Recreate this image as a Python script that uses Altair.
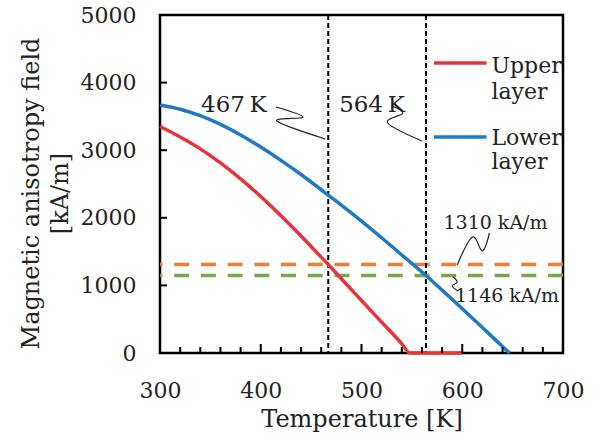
import altair as alt
import pandas as pd

# Anisotropy field curves (temperature in K, field in kA/m)
upper_temp = [300, 320, 340, 360, 380, 400, 420, 440, 460, 467, 480, 500, 520, 540, 548, 560, 580, 600]
upper_field = [3350, 3196, 3020, 2812, 2576, 2314, 2030, 1730, 1418, 1310, 1098, 776, 456, 136, 0, 0, 0, 0]
lower_temp = [300, 320, 340, 360, 380, 400, 420, 440, 460, 467, 480, 500, 520, 540, 564, 580, 600, 620, 640, 647]
lower_field = [3670, 3606, 3510, 3382, 3226, 3046, 2850, 2640, 2415, 2335, 2188, 1952, 1705, 1450, 1146, 930, 654, 376, 96, 0]

# Reference levels and crossing temperatures
levels = [1310, 1146]
level_colors = ["#ED7D31", "#70AD47"]
crossings = [467, 564]

# Axis ticks
x_ticks = [300, 400, 500, 600, 700]
x_minor = [t for t in range(320, 700, 20) if t % 100 != 0]
x_major_inner = [400, 500, 600]
y_ticks = [0, 1000, 2000, 3000, 4000, 5000]
y_inner = [1000, 2000, 3000, 4000]

# Leader lines (temperature, field) for the annotations
lead_467_t = [415, 442, 416, 464]
lead_467_h = [3639, 3491, 3432, 3166]
lead_564_t = [530, 541, 526, 560]
lead_564_h = [3654, 3550, 3402, 3136]
lead_1310_t = [627, 620, 610, 595]
lead_1310_h = [1775, 1509, 1716, 1302]
lead_1146_t = [591, 595, 590, 596]
lead_1146_h = [1124, 1050, 991, 917]

# Annotation labels
big_labels = ["467\u2009K", "564\u2009K"]
big_label_t = [373.4, 510.4]
big_label_h = [3570, 3570]
small_labels = ["1310 kA/m", "1146 kA/m"]
small_label_t = [633, 644.4]
small_label_h = [1830, 759]

# Legend entries
series_names = ["Upper layer", "Lower layer"]
series_colors = ["#E8333A", "#2079C2"]
legend_line_t = [572, 624]
legend_line_h = [4290, 3195]
legend_text = ["Upper", "layer", "Lower", "layer"]
legend_text_h = [4138, 3752, 3077, 2717]
legend_text_t = 629

FONT = "DejaVu Serif"
W, H = 403, 338
X0, X1, Y0, Y1 = 300, 700, 0, 5000
# inner tick lengths converted from px to data units
MINOR_LEN = 6 * (Y1 - Y0) / H
MAJOR_LEN = 9 * (Y1 - Y0) / H
YTICK_LEN = 7 * (X1 - X0) / W

x_scale = alt.Scale(domain=[X0, X1], nice=False, zero=False)
y_scale = alt.Scale(domain=[Y0, Y1], nice=False)

curves = pd.DataFrame({
    "T": upper_temp + lower_temp,
    "H": upper_field + lower_field,
    "layer": [series_names[0]] * len(upper_temp) + [series_names[1]] * len(lower_temp),
})

x_enc = alt.X("T:Q", scale=x_scale,
              axis=alt.Axis(values=x_ticks, title="Temperature [K]", labelPadding=27,
                            titlePadding=6, labelFlush=False, format="d"))
y_enc = alt.Y("H:Q", scale=y_scale,
              axis=alt.Axis(values=y_ticks, title=["Magnetic anisotropy field", "[kA/m]"],
                            labelPadding=24, titlePadding=8, titleLineHeight=29, titleY=178,
                            labelFlush=False, format="d"))

curve_layer = alt.Chart(curves).mark_line(strokeWidth=3.5, interpolate="monotone").encode(
    x=x_enc,
    y=y_enc,
    color=alt.Color("layer:N", scale=alt.Scale(domain=series_names, range=series_colors), legend=None),
)

level_df = pd.DataFrame({"H": levels, "c": level_colors})
level_layer = alt.Chart(level_df).mark_rule(strokeWidth=3.5, strokeDash=[15, 11.7]).encode(
    y=alt.Y("H:Q", scale=y_scale),
    color=alt.Color("c:N", scale=None),
)

cross_df = pd.DataFrame({"T": crossings})
cross_layer = alt.Chart(cross_df).mark_rule(strokeWidth=2, strokeDash=[5, 3], color="black").encode(
    x=alt.X("T:Q", scale=x_scale),
)

# Inward-pointing tick marks, each one a two-point segment
tick_rows = []
for t in x_minor:
    tick_rows += [{"g": f"m{t}", "T": t, "H": Y0}, {"g": f"m{t}", "T": t, "H": Y0 + MINOR_LEN}]
for t in x_major_inner:
    tick_rows += [{"g": f"M{t}", "T": t, "H": Y0}, {"g": f"M{t}", "T": t, "H": Y0 + MAJOR_LEN}]
for h in y_inner:
    tick_rows += [{"g": f"y{h}", "T": X0, "H": h}, {"g": f"y{h}", "T": X0 + YTICK_LEN, "H": h}]
tick_df = pd.DataFrame(tick_rows)
tick_layer = alt.Chart(tick_df).mark_line(strokeWidth=2, color="black").encode(
    x=alt.X("T:Q", scale=x_scale),
    y=alt.Y("H:Q", scale=y_scale),
    detail="g:N",
)

# Leader lines
lead_rows = []
for name, ts, hs in [("a", lead_467_t, lead_467_h), ("b", lead_564_t, lead_564_h),
                     ("c", lead_1310_t, lead_1310_h), ("d", lead_1146_t, lead_1146_h)]:
    for i, (t, h) in enumerate(zip(ts, hs)):
        lead_rows.append({"g": name, "i": i, "T": t, "H": h})
lead_df = pd.DataFrame(lead_rows)
lead_layer = alt.Chart(lead_df).mark_line(strokeWidth=1.2, color="#222222", interpolate="cardinal").encode(
    x=alt.X("T:Q", scale=x_scale),
    y=alt.Y("H:Q", scale=y_scale),
    detail="g:N",
    order="i:Q",
)

big_df = pd.DataFrame({"T": big_label_t, "H": big_label_h, "txt": big_labels})
big_text = alt.Chart(big_df).mark_text(font=FONT, fontSize=23, baseline="alphabetic", align="center",
                                       color="#222222").encode(
    x=alt.X("T:Q", scale=x_scale), y=alt.Y("H:Q", scale=y_scale), text="txt:N")

small_df = pd.DataFrame({"T": small_label_t, "H": small_label_h, "txt": small_labels})
small_text = alt.Chart(small_df).mark_text(font=FONT, fontSize=19, baseline="alphabetic", align="center",
                                           color="#222222").encode(
    x=alt.X("T:Q", scale=x_scale), y=alt.Y("H:Q", scale=y_scale), text="txt:N")

# Legend drawn inside the plot
leg_line_df = pd.DataFrame({
    "T": [legend_line_t[0], legend_line_t[1], legend_line_t[0], legend_line_t[1]],
    "H": [legend_line_h[0], legend_line_h[0], legend_line_h[1], legend_line_h[1]],
    "layer": [series_names[0], series_names[0], series_names[1], series_names[1]],
})
leg_lines = alt.Chart(leg_line_df).mark_line(strokeWidth=3.5).encode(
    x=alt.X("T:Q", scale=x_scale), y=alt.Y("H:Q", scale=y_scale),
    color=alt.Color("layer:N", scale=alt.Scale(domain=series_names, range=series_colors), legend=None),
)
leg_text_df = pd.DataFrame({"T": [legend_text_t] * 4, "H": legend_text_h, "txt": legend_text})
leg_text = alt.Chart(leg_text_df).mark_text(font=FONT, fontSize=22, baseline="alphabetic", align="left",
                                            color="#222222").encode(
    x=alt.X("T:Q", scale=x_scale), y=alt.Y("H:Q", scale=y_scale), text="txt:N")

chart = alt.layer(
    level_layer, cross_layer, curve_layer, tick_layer,
    lead_layer, big_text, small_text, leg_lines, leg_text,
).properties(
    width=W, height=H,
    autosize="none",
    padding={"left": 160, "top": 15, "right": 34, "bottom": 85},
    background="white",
).configure_view(
    stroke="black", strokeWidth=2.5,
).configure_axis(
    grid=False, domain=False, ticks=False,
    labelFont=FONT, labelFontSize=22, labelColor="#222222",
    titleFont=FONT, titleFontSize=24, titleFontWeight="normal", titleColor="#222222",
)

chart.save("out.html", embed_options={"renderer": "svg", "actions": False})
